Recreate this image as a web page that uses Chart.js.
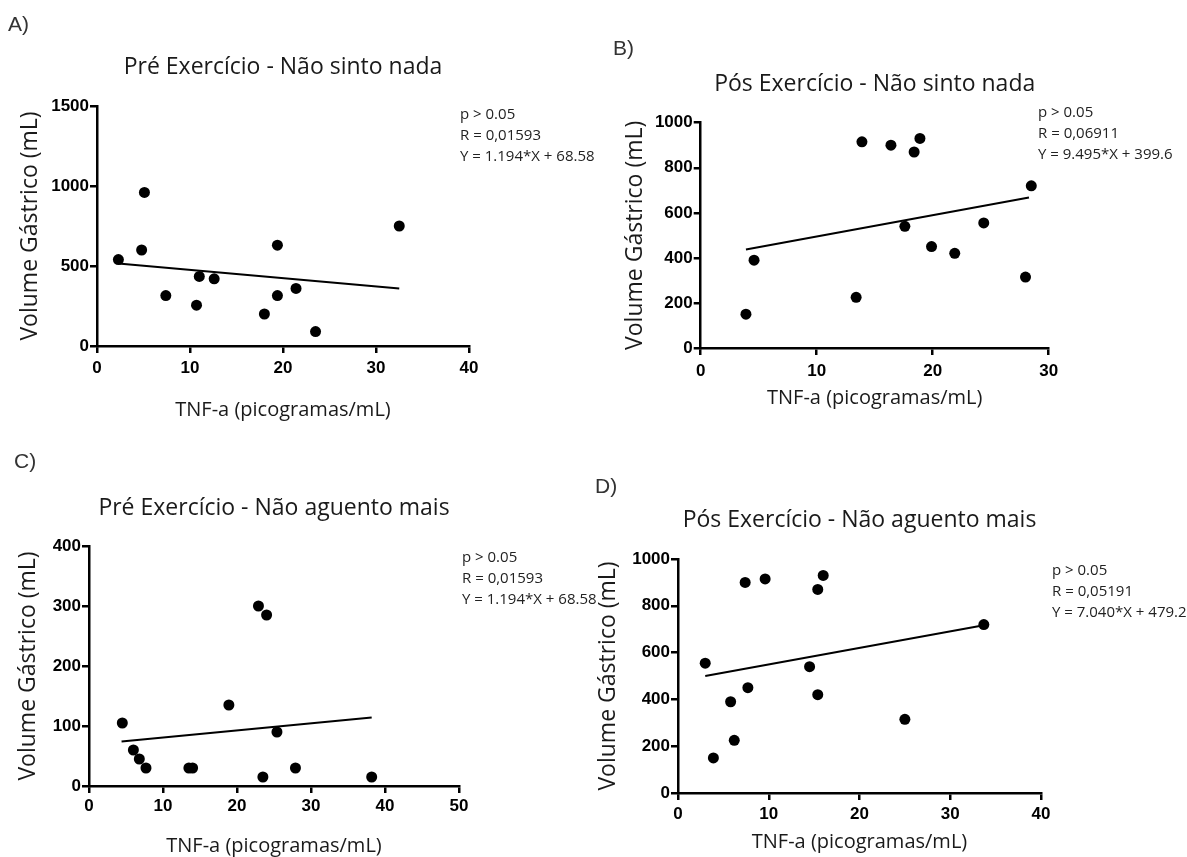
<!DOCTYPE html>
<html>
<head>
<meta charset="utf-8">
<title>TNF-a x Volume Gastrico</title>
<script src="https://cdn.jsdelivr.net/npm/chart.js@4.4.1/dist/chart.umd.min.js"></script>
<style>
  body { margin: 0; background: #fff; }
  #page { position: relative; width: 1187px; height: 857px; overflow: hidden; font-family: 'Open Sans', sans-serif; color: #1a1a1a; }
  canvas { position: absolute; }
  .tag { position: absolute; font-family: 'Liberation Sans', Arial, sans-serif; font-size: 21px; line-height: 24px; color: #333; }
  .stats { position: absolute; font-size: 15px; line-height: 21px; white-space: nowrap; color: #222; }
</style>
</head>
<body>
<div id="page">
  <canvas id="chartA"></canvas>
  <canvas id="chartB"></canvas>
  <canvas id="chartC"></canvas>
  <canvas id="chartD"></canvas>

  <div class="tag" style="left:8px;top:12px">A)</div>
  <div class="tag" style="left:613px;top:36px">B)</div>
  <div class="tag" style="left:14px;top:449px">C)</div>
  <div class="tag" style="left:595px;top:474px">D)</div>

  <div class="stats" style="left:460px;top:103px">p &gt; 0.05<br>R = 0,01593<br>Y = 1.194*X + 68.58</div>
  <div class="stats" style="left:1038px;top:101px">p &gt; 0.05<br>R = 0,06911<br>Y = 9.495*X + 399.6</div>
  <div class="stats" style="left:462px;top:546px">p &gt; 0.05<br>R = 0,01593<br>Y = 1.194*X + 68.58</div>
  <div class="stats" style="left:1052px;top:559px">p &gt; 0.05<br>R = 0,05191<br>Y = 7.040*X + 479.2</div>
</div>
<script>
// A) Pre exercicio - nao sinto nada
const aX = [2.3, 5.1, 4.8, 7.4, 10.7, 11.0, 12.6, 18.0, 19.4, 19.4, 21.4, 23.5, 32.5];
const aY = [540, 960, 600, 315, 255, 435, 420, 200, 630, 315, 360, 90, 750];
const aFitX = [2.3, 32.5];
const aFitY = [515, 360];

// B) Pos exercicio - nao sinto nada
const bX = [3.9, 4.6, 13.4, 13.9, 16.4, 17.6, 18.4, 18.9, 19.9, 21.9, 24.4, 28.0, 28.5];
const bY = [150, 390, 225, 915, 900, 540, 870, 930, 450, 420, 555, 315, 720];
const bFitX = [3.9, 28.3];
const bFitY = [437, 668];

// C) Pre exercicio - nao aguento mais
const cX = [4.5, 6.0, 6.8, 7.7, 13.5, 14.0, 18.9, 22.9, 24.0, 23.5, 25.4, 27.9, 38.2];
const cY = [105, 60, 45, 30, 30, 30, 135, 300, 285, 15, 90, 30, 15];
const cFitX = [4.4, 38.2];
const cFitY = [74, 114];

// D) Pos exercicio - nao aguento mais
const dX = [3.0, 3.9, 5.8, 6.2, 7.4, 7.7, 9.6, 14.5, 15.4, 15.4, 16.0, 25.0, 33.7];
const dY = [555, 150, 390, 225, 900, 450, 915, 540, 870, 420, 930, 315, 720];
const dFitX = [3.0, 33.7];
const dFitY = [500, 717];

const titles = [
  'Pré Exercício - Não sinto nada',
  'Pós Exercício - Não sinto nada',
  'Pré Exercício - Não aguento mais',
  'Pós Exercício - Não aguento mais'
];
const xMaxes = [40, 30, 50, 40];
const yMaxes = [1500, 1000, 400, 1000];
const ySteps = [500, 200, 100, 200];
const xTitle = 'TNF-a (picogramas/mL)';
const yTitle = 'Volume Gástrico (mL)';

// page layout: canvas box, plot area, title / axis title centres
const boxes = [
  { x: 0,   y: 30,  w: 499, h: 392, l: 97,    t: 106,   r: 469,    b: 346, ty: 67,  yt: 30,  xt: 410, tickY: 368 },
  { x: 600, y: 40,  w: 479, h: 370, l: 700.7, t: 122.7, r: 1048.7, b: 348, ty: 84,  yt: 635, xt: 398, tickY: 371 },
  { x: 0,   y: 470, w: 489, h: 388, l: 89,    t: 546,   r: 459,    b: 786, ty: 508, yt: 28,  xt: 846, tickY: 806 },
  { x: 585, y: 480, w: 486, h: 374, l: 678,   t: 559,   r: 1041,   b: 793, ty: 520, yt: 608, xt: 842, tickY: 814 }
];

const TXT = '#1a1a1a';
const TITLE_SIZE = 23, YT_SIZE = 23, XT_SIZE = 20, TICK_SIZE = 17, TICK_LEN = 7;

function toPts(xs, ys) {
  return xs.map((x, i) => ({ x: x, y: ys[i] }));
}

function makePanel(id, i, xs, ys, fitX, fitY) {
  const box = boxes[i];
  const cv = document.getElementById(id);
  cv.width = box.w;
  cv.height = box.h;
  cv.style.left = box.x + 'px';
  cv.style.top = box.y + 'px';

  const tLh = TITLE_SIZE * 1.2, yLh = YT_SIZE * 1.2, xLh = XT_SIZE * 1.2, kLh = TICK_SIZE * 1.2;
  const grid = { display: true, drawOnChartArea: false, drawTicks: true, tickLength: TICK_LEN, color: '#000', lineWidth: 2.5 };
  const border = { display: true, color: '#000', width: 2.5 };
  const tickFont = { family: 'Liberation Sans', size: TICK_SIZE, weight: 'bold', lineHeight: 1.2 };

  new Chart(cv, {
    type: 'scatter',
    data: {
      datasets: [
        { data: toPts(xs, ys), pointRadius: 5.5, pointHoverRadius: 5.5, backgroundColor: '#000', borderColor: '#000', borderWidth: 0, clip: false },
        { data: toPts(fitX, fitY), showLine: true, pointRadius: 0, borderColor: '#000', borderWidth: 2, clip: false }
      ]
    },
    options: {
      responsive: false,
      animation: false,
      events: [],
      layout: { padding: { left: 0, top: 0, bottom: 0, right: box.x + box.w - box.r } },
      plugins: {
        legend: { display: false },
        tooltip: { enabled: false },
        title: {
          display: true,
          text: titles[i],
          fullSize: false,
          color: TXT,
          font: { family: 'Open Sans', size: TITLE_SIZE, weight: 'normal', lineHeight: 1.2 },
          padding: { top: box.ty - box.y - tLh / 2, bottom: box.t - box.ty - tLh / 2 }
        }
      },
      scales: {
        x: {
          type: 'linear',
          min: 0,
          max: xMaxes[i],
          grid: grid,
          border: border,
          ticks: { stepSize: 10, color: '#000', font: tickFont, maxRotation: 0, autoSkip: false,
                   padding: box.tickY - box.b - TICK_LEN - kLh / 2, callback: v => String(v) },
          title: { display: true, text: xTitle, color: TXT,
                   font: { family: 'Open Sans', size: XT_SIZE, lineHeight: 1.2 },
                   padding: { top: 0, bottom: box.y + box.h - box.xt - xLh / 2 } },
          afterFit: s => { s.height = box.y + box.h - box.b; }
        },
        y: {
          type: 'linear',
          min: 0,
          max: yMaxes[i],
          grid: grid,
          border: border,
          ticks: { stepSize: ySteps[i], color: '#000', font: tickFont, padding: 1, callback: v => String(v) },
          title: { display: true, text: yTitle, color: TXT,
                   font: { family: 'Open Sans', size: YT_SIZE, lineHeight: 1.2 },
                   padding: { top: box.yt - box.x - yLh / 2, bottom: 0 } },
          afterFit: s => { s.width = box.l - box.x; }
        }
      }
    }
  });
}

makePanel('chartA', 0, aX, aY, aFitX, aFitY);
makePanel('chartB', 1, bX, bY, bFitX, bFitY);
makePanel('chartC', 2, cX, cY, cFitX, cFitY);
makePanel('chartD', 3, dX, dY, dFitX, dFitY);
</script>
</body>
</html>
